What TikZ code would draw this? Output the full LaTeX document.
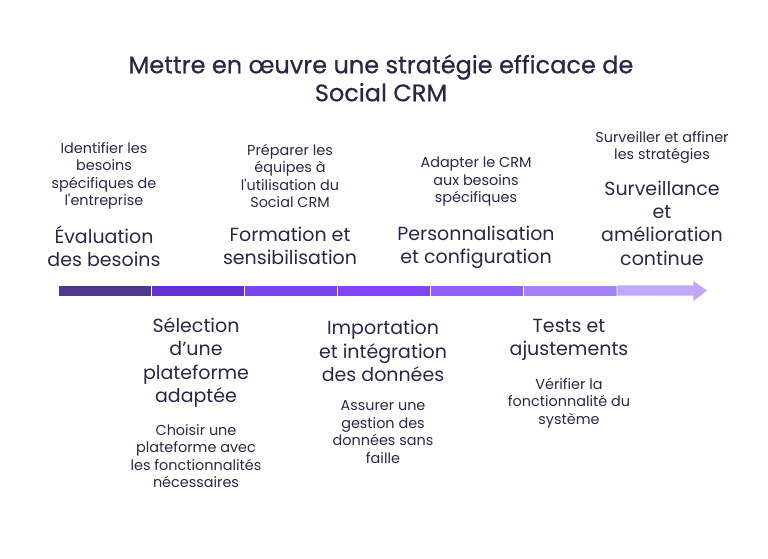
\documentclass[tikz,border=0pt]{standalone}
\usepackage{fontspec}
\setmainfont{Poppins}
\newfontfamily\titlefont{Poppins}[FakeBold=0.6]
\definecolor{ink}{HTML}{2A2646}
\definecolor{s1}{HTML}{4F3891}
\definecolor{s2}{HTML}{6331CF}
\definecolor{s3}{HTML}{7A46EC}
\definecolor{s4}{HTML}{8543F6}
\definecolor{s5}{HTML}{915FFA}
\definecolor{s6}{HTML}{A57FF7}
\definecolor{s7}{HTML}{C2A6FA}
\begin{document}
\begin{tikzpicture}[x=1pt,y=-1pt,
  every node/.style={text=ink, align=center, inner sep=0pt},
  titletext/.style={font=\titlefont\fontsize{24}{28}\selectfont},
  head/.style={font=\fontsize{19}{23.3}\selectfont},
  desc/.style={font=\fontsize{14.4}{17.5}\selectfont},
  seg/.style={draw=white, line width=0.8pt}]
\useasboundingbox (0,0) rectangle (768,559);
\node[titletext] (title) at (381,78) {Mettre en œuvre une stratégie efficace de\\Social CRM};
% timeline bar
\filldraw[seg, fill=s1] (58,285) rectangle (151,296);
\filldraw[seg, fill=s2] (151,285) rectangle (244,296);
\filldraw[seg, fill=s3] (244,285) rectangle (337,296);
\filldraw[seg, fill=s4] (337,285) rectangle (430,296);
\filldraw[seg, fill=s5] (430,285) rectangle (523,296);
\filldraw[seg, fill=s6] (523,285) rectangle (617,296);
\filldraw[seg, fill=s7] (617,285) -- (693,285) -- (693,280) -- (708,290.5) -- (693,302) -- (693,296) -- (617,296) -- cycle;
% upper steps
\node[desc] (d1) at (104,176) {Identifier les\\besoins\\spécifiques de\\l\textquotesingle entreprise};
\node[head] (h1) at (104,246) {Évaluation\\des besoins};
\node[desc] (d3) at (290,176) {Préparer les\\équipes à\\l\textquotesingle utilisation du\\Social CRM};
\node[head] (h3) at (290,246) {Formation et\\sensibilisation};
\node[desc] (d5) at (476,182) {Adapter le CRM\\aux besoins\\spécifiques};
\node[head] (h5) at (476,247) {Personnalisation\\et configuration};
\node[desc] (d7) at (662,147.5) {Surveiller et affiner\\les stratégies};
\node[head] (h7) at (662,223) {Surveillance\\et\\amélioration\\continue};
% lower steps
\node[head] (h2) at (196,362.5) {Sélection\\d’une\\plateforme\\adaptée};
\node[desc] (d2) at (196,456) {Choisir une\\plateforme avec\\les fonctionnalités\\nécessaires};
\node[head] (h4) at (383,351) {Importation\\et intégration\\des données};
\node[desc] (d4) at (383,432) {Assurer une\\gestion des\\données sans\\faille};
\node[head] (h6) at (569,339.5) {Tests et\\ajustements};
\node[desc] (d6) at (569,403) {Vérifier la\\fonctionnalité du\\système};
\end{tikzpicture}
\end{document}
